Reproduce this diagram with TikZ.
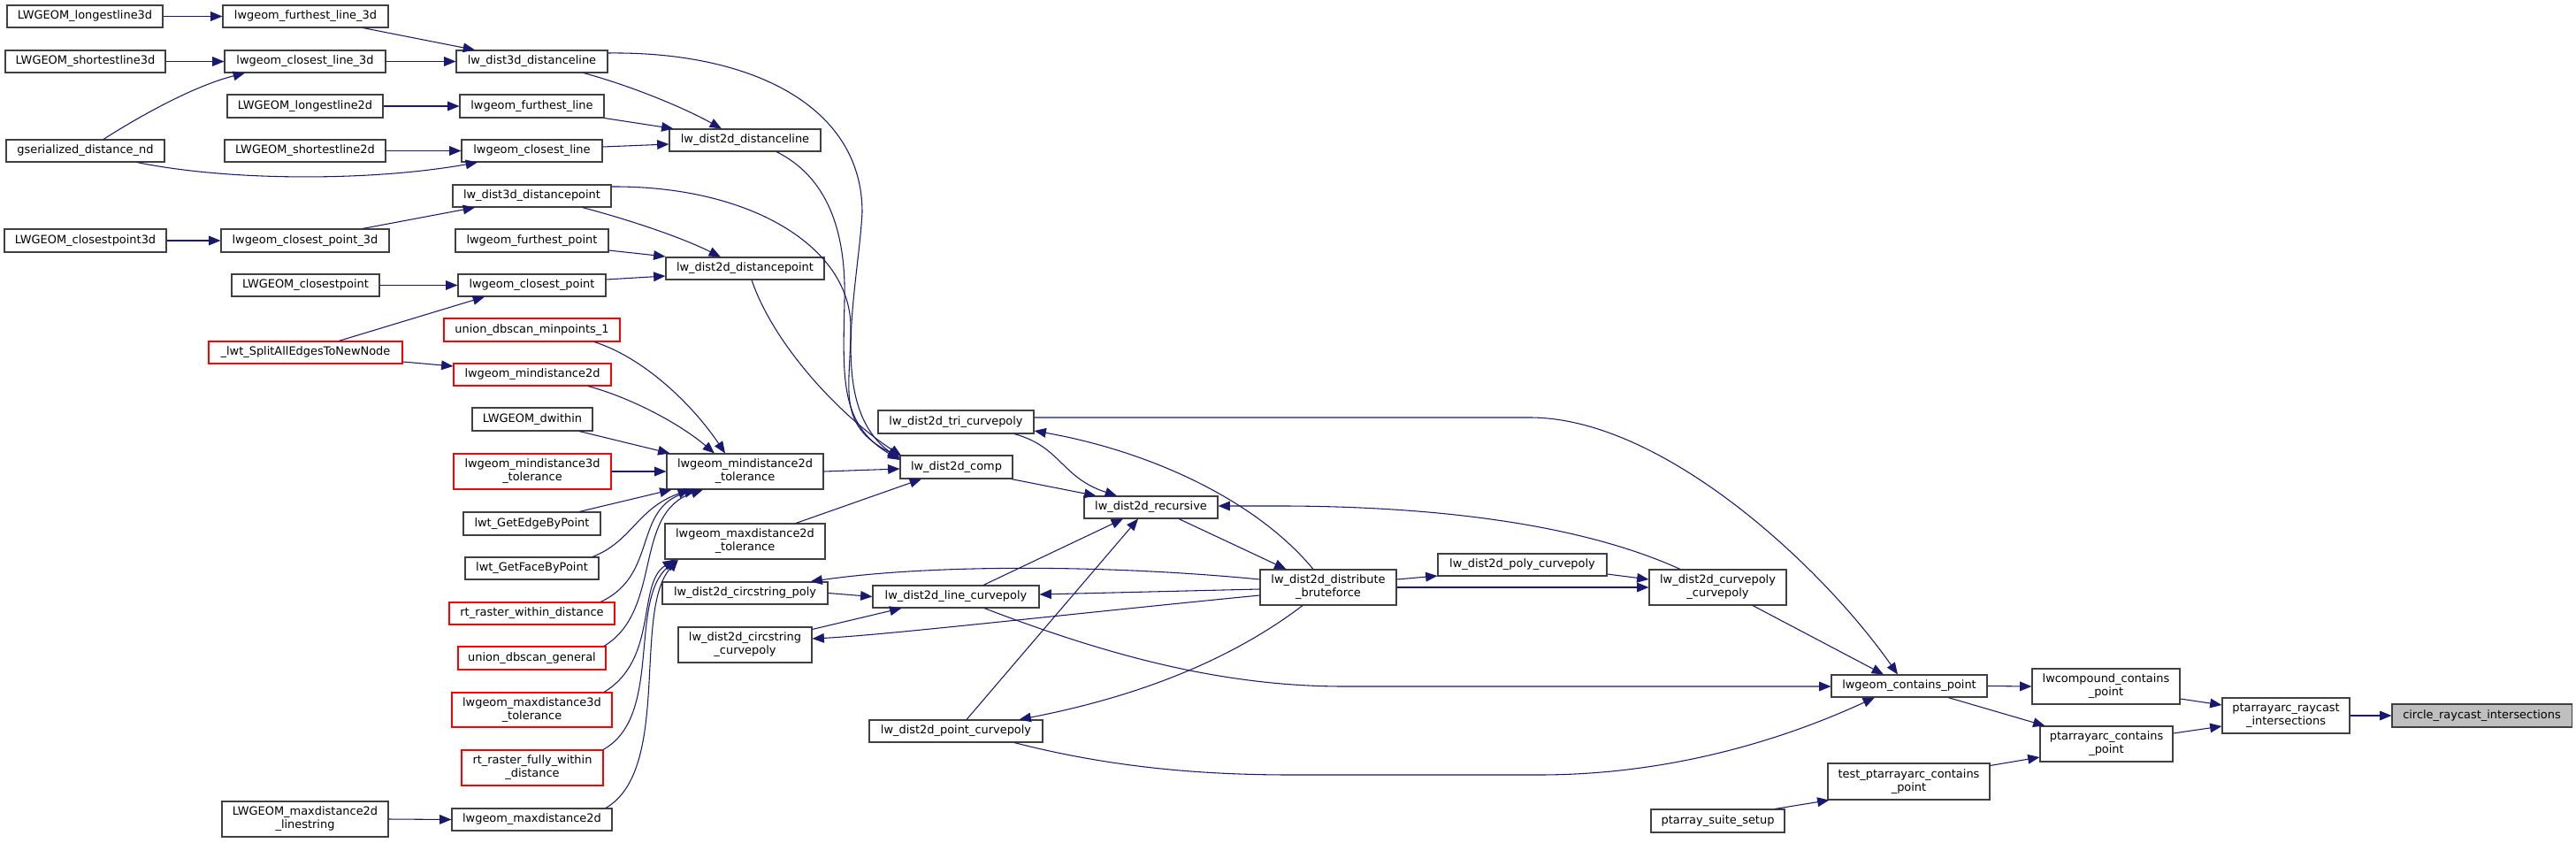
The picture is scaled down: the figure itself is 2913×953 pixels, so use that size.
\documentclass[tikz,border=0pt]{standalone}
\usepackage{fontspec}
\setmainfont{DejaVu Sans}
\usetikzlibrary{arrows.meta,calc}
\definecolor{edgec}{HTML}{191970}
\definecolor{boxc}{HTML}{404040}
\definecolor{redc}{HTML}{FF0000}
\definecolor{hlc}{HTML}{BFBFBF}
\tikzset{
 gbox/.style={draw=boxc, line width=0.8pt, fill=white, inner sep=0pt, align=center, font=\fontsize{9.7}{11.3}\selectfont},
 redbox/.style={draw=redc},
 hlbox/.style={fill=hlc},
 cedge/.style={draw=edgec, line width=0.8pt, -{Triangle[length=10pt,width=8pt]}},
}
\newcommand{\gn}[7][]{\node[gbox,#1,minimum width={(#5-#3)*0.75pt},minimum height={(#6-#4)*0.75pt}] (#2) at ({(#3+#5)/2},{(#4+#6)/2}) {#7};}
\begin{document}
\begin{tikzpicture}[x=0.75pt,y=-0.75pt]
\useasboundingbox (0,0) rectangle (2913,953);
\fill[white] (0,0) rectangle (2913,953);
% column 1
\gn{n1}{8}{6}{184}{31}{LWGEOM\_longestline3d}
\gn{n3}{6}{57}{187}{82}{LWGEOM\_shortestline3d}
\gn{n6}{7}{158}{186}{183}{gserialized\_distance\_nd}
\gn{n8}{5}{259}{188}{285}{LWGEOM\_closestpoint3d}
% column 2
\gn{n2}{252}{6}{439}{31}{lwgeom\_furthest\_line\_3d}
\gn{n4}{254}{57}{436}{82}{lwgeom\_closest\_line\_3d}
\gn{n5}{257}{107}{433}{133}{LWGEOM\_longestline2d}
\gn{n7}{254}{158}{436}{183}{LWGEOM\_shortestline2d}
\gn{n9}{250}{259}{440}{285}{lwgeom\_closest\_point\_3d}
\gn{n10}{262}{310}{429}{335}{LWGEOM\_closestpoint}
\gn[redbox]{n11}{236}{386}{455}{411}{\_lwt\_SplitAllEdgesToNewNode}
\gn{n35}{251}{906}{439}{946}{LWGEOM\_maxdistance2d\\\_linestring}
% column 3
\gn{n12}{516}{57}{687}{82}{lw\_dist3d\_distanceline}
\gn{n13}{520}{107}{683}{133}{lwgeom\_furthest\_line}
\gn{n15}{522}{158}{681}{183}{lwgeom\_closest\_line}
\gn{n16}{512}{209}{691}{234}{lw\_dist3d\_distancepoint}
\gn{n17}{515}{259}{688}{285}{lwgeom\_furthest\_point}
\gn{n19}{518}{310}{685}{335}{lwgeom\_closest\_point}
\gn[redbox]{n20}{502}{360}{701}{386}{union\_dbscan\_minpoints\_1}
\gn[redbox]{n21}{513}{411}{691}{436}{lwgeom\_mindistance2d}
\gn{n22}{534}{461}{670}{487}{LWGEOM\_dwithin}
\gn[redbox]{n24}{513}{513}{691}{553}{lwgeom\_mindistance3d\\\_tolerance}
\gn{n25}{524}{579}{679}{605}{lwt\_GetEdgeByPoint}
\gn{n27}{526}{630}{677}{655}{lwt\_GetFaceByPoint}
\gn[redbox]{n29}{508}{681}{695}{706}{rt\_raster\_within\_distance}
\gn[redbox]{n31}{518}{731}{685}{757}{union\_dbscan\_general}
\gn[redbox]{n32}{511}{783}{692}{822}{lwgeom\_maxdistance3d\\\_tolerance}
\gn[redbox]{n33}{522}{848}{682}{888}{rt\_raster\_fully\_within\\\_distance}
\gn{n34}{511}{914}{692}{939}{lwgeom\_maxdistance2d}
% column 4
\gn{n14}{757}{146}{928}{171}{lw\_dist2d\_distanceline}
\gn{n18}{753}{291}{932}{316}{lw\_dist2d\_distancepoint}
\gn{n23}{754}{513}{931}{553}{lwgeom\_mindistance2d\\\_tolerance}
\gn{n26}{752}{592}{933}{632}{lwgeom\_maxdistance2d\\\_tolerance}
\gn{n28}{749}{658}{936}{683}{lw\_dist2d\_circstring\_poly}
\gn{n30}{767}{709}{918}{749}{lw\_dist2d\_circstring\\\_curvepoly}
% column 5
\gn{n36}{993}{464}{1169}{490}{lw\_dist2d\_tri\_curvepoly}
\gn{n37}{1018}{515}{1145}{541}{lw\_dist2d\_comp}
\gn{n39}{987}{662}{1175}{687}{lw\_dist2d\_line\_curvepoly}
\gn{n41}{983}{814}{1179}{839}{lw\_dist2d\_point\_curvepoly}
% column 6+
\gn{n38}{1226}{561}{1377}{586}{lw\_dist2d\_recursive}
\gn{n40}{1425}{644}{1579}{684}{lw\_dist2d\_distribute\\\_bruteforce}
\gn{n42}{1626}{626}{1817}{651}{lw\_dist2d\_poly\_curvepoly}
\gn{n43}{1865}{644}{2020}{684}{lw\_dist2d\_curvepoly\\\_curvepoly}
\gn{n44}{1867}{915}{2018}{941}{ptarray\_suite\_setup}
\gn{n45}{2071}{763}{2247}{788}{lwgeom\_contains\_point}
\gn{n46}{2067}{863}{2250}{904}{test\_ptarrayarc\_contains\\\_point}
\gn{n47}{2298}{756}{2465}{796}{lwcompound\_contains\\\_point}
\gn{n48}{2307}{821}{2457}{861}{ptarrayarc\_contains\\\_point}
\gn{n49}{2513}{789}{2657}{829}{ptarrayarc\_raycast\\\_intersections}
\gn[hlbox]{n50}{2705}{796}{2908}{822}{circle\_raycast\_intersections}
% edges
\draw[cedge] (n1.east) -- (n2.west);
\draw[cedge] (n3.east) -- (n4.west);
\draw[cedge] ($(n6.north)+(20.5,0)$) .. controls (160,130) and (220,97) .. ($(n4.south)+(-68,0)$);
\draw[cedge] ($(n6.south)+(58.5,0)$) .. controls (260,205) and (420,205) .. ($(n15.south)+(-61.5,0)$);
\draw[cedge] (n5.east) -- (n13.west);
\draw[cedge] (n7.east) -- (n15.west);
\draw[cedge] ($(n2.south)+(65,0)$) -- ($(n12.north)+(-64.5,0)$);
\draw[cedge] (n4.east) -- (n12.west);
\draw[cedge] (n8.east) -- (n9.west);
\draw[cedge] ($(n9.north)+(65,0)$) -- ($(n16.south)+(-64.5,0)$);
\draw[cedge] (n10.east) -- (n19.west);
\draw[cedge] ($(n11.north)+(37.5,0)$) -- ($(n19.south)+(-53.5,0)$);
\draw[cedge] ($(n11.east)+(0,10.5)$) -- ($(n21.west)+(0,-9.5)$);
\draw[cedge] ($(n12.south)+(58.5,0)$) .. controls (710,96) and (770,120) .. ($(n14.north)+(-26.5,0)$);
\draw[cedge] (n13.south east) -- ($(n14.north west)+(5,0)$);
\draw[cedge] ($(n15.east)+(0,-4.5)$) -- ($(n14.west)+(0,4.5)$);
\draw[cedge] ($(n12.east)+(0,-9.5)$) .. controls (850,58) and (975,120) .. (975,240) .. controls (970,330) and (935,460) .. ($(n37.west)+(0,-9)$);
\draw[cedge] ($(n16.south)+(57,0)$) .. controls (710,248) and (770,268) .. ($(n18.north)+(-27.5,0)$);
\draw[cedge] ($(n17.east)+(0,11)$) -- ($(n18.west)+(0,-13.5)$);
\draw[cedge] ($(n19.east)+(0,-6.5)$) -- ($(n18.west)+(0,8.5)$);
\draw[cedge] ($(n16.east)+(0,-10.5)$) .. controls (850,210) and (962,280) .. (962,370) .. controls (962,440) and (945,480) .. ($(n37.west)+(0,-11)$);
\draw[cedge] ($(n14.south)+(35.5,0)$) .. controls (935,200) and (957,260) .. (955,340) .. controls (953,430) and (950,480) .. ($(n37.west)+(0,-8)$);
\draw[cedge] ($(n18.south)+(7.5,0)$) .. controls (875,390) and (950,470) .. ($(n37.north west)+(2,1)$);
\draw[cedge] ($(n20.south)+(70.5,0)$) .. controls (730,405) and (785,460) .. ($(n23.north)+(-22.5,0)$);
\draw[cedge] ($(n21.south)+(63,0)$) .. controls (715,450) and (770,480) .. ($(n23.north)+(-34.5,0)$);
\draw[cedge] ($(n22.south)+(53,0)$) -- ($(n23.north west)+(4,0)$);
\draw[cedge] (n24.east) -- (n23.west);
\draw[cedge] ($(n25.north)+(53.5,0)$) -- ($(n23.south west)+(6,0)$);
\draw[cedge] ($(n27.north)+(68.5,0)$) .. controls (715,612) and (720,575) .. ($(n23.south)+(-62.5,0)$);
\draw[cedge] ($(n29.north)+(77.5,0)$) .. controls (745,650) and (715,575) .. ($(n23.south)+(-55.5,0)$);
\draw[cedge] ($(n31.north)+(81.5,0)$) .. controls (750,690) and (715,580) .. ($(n23.south)+(-47.5,0)$);
\draw[cedge] ($(n32.north)+(81.5,0)$) .. controls (745,745) and (720,660) .. ($(n26.south)+(-79.5,0)$);
\draw[cedge] ($(n33.north)+(80,0)$) .. controls (750,810) and (710,680) .. ($(n26.south)+(-77.5,0)$);
\draw[cedge] ($(n34.north)+(83.5,0)$) .. controls (760,870) and (715,690) .. ($(n26.south)+(-75.5,0)$);
\draw[cedge] (n35.east) -- (n34.west);
\draw[cedge] (n23.east) -- ($(n37.west)+(0,2)$);
\draw[cedge] ($(n26.north)+(57.5,0)$) -- ($(n37.south)+(-39.5,0)$);
\draw[cedge] ($(n37.south east)+(-2,0)$) -- ($(n38.north west)+(14,0)$);
\draw[cedge] ($(n36.south)+(66,0)$) .. controls (1200,505) and (1200,540) .. ($(n38.north)+(-38.5,0)$);
\draw[cedge] ($(n39.north)+(31,0)$) -- ($(n38.south)+(-31.5,0)$);
\draw[cedge] ($(n41.north)+(12,0)$) -- ($(n38.south)+(-14.5,0)$);
\draw[cedge] ($(n38.south)+(31.5,0)$) -- ($(n40.north west)+(30,0)$);
\draw[cedge] ($(n40.north)+(-17,0)$) .. controls (1420,565) and (1300,510) .. ($(n36.east)+(0,10)$);
\draw[cedge] ($(n40.west)+(0,-9)$) .. controls (1250,638) and (1050,638) .. ($(n28.north east)+(-20,0)$);
\draw[cedge] ($(n40.west)+(0,2)$) -- ($(n39.east)+(0,-2.5)$);
\draw[cedge] ($(n40.west)+(0,9)$) .. controls (1200,695) and (1000,718) .. ($(n30.east)+(0,-7)$);
\draw[cedge] ($(n40.south)+(-29,0)$) .. controls (1400,740) and (1300,785) .. ($(n41.north east)+(-27,0)$);
\draw[cedge] (n28.east) -- (n39.west);
\draw[cedge] ($(n30.north east)+(0,3)$) -- ($(n39.south west)+(33,0)$);
\draw[cedge] ($(n39.south)+(32,0)$) .. controls (1250,740) and (1380,776) .. (1520,776) -- ($(n45.west)+(0,0.5)$);
\draw[cedge] ($(n41.south)+(66,0)$) .. controls (1250,866) and (1350,876) .. (1460,876) -- (1740,876) .. controls (1900,876) and (2030,830) .. ($(n45.south)+(-39,0)$);
\draw[cedge] ($(n36.east)+(0,-5)$) -- (1730,472) .. controls (1880,472) and (2060,640) .. ($(n45.north)+(-13,0)$);
\draw[cedge] ($(n43.south)+(39.5,0)$) -- ($(n45.north)+(-29,0)$);
\draw[cedge] ($(n40.east)+(0,-9)$) -- ($(n42.west)+(0,12.5)$);
\draw[cedge] (n40.east) -- (n43.west);
\draw[cedge] ($(n42.east)+(0,10.5)$) -- ($(n43.west)+(0,-9)$);
\draw[cedge] ($(n43.north)+(-42.5,0)$) .. controls (1800,598) and (1650,573) .. (1455,572) -- ($(n38.east)+(0,-1.5)$);
\draw[cedge] (n45.east) -- (n47.west);
\draw[cedge] ($(n45.south)+(44,0)$) -- ($(n48.north west)+(6,0)$);
\draw[cedge] ($(n47.east)+(0,14)$) -- ($(n49.west)+(0,-12)$);
\draw[cedge] ($(n48.east)+(0,-12)$) -- ($(n49.west)+(0,12)$);
\draw[cedge] (n49.east) -- (n50.west);
\draw[cedge] ($(n46.north east)+(0,3)$) -- ($(n48.west)+(0,15)$);
\draw[cedge] ($(n44.north)+(64.5,0)$) -- ($(n46.south west)+(2,0)$);
\end{tikzpicture}
\end{document}
